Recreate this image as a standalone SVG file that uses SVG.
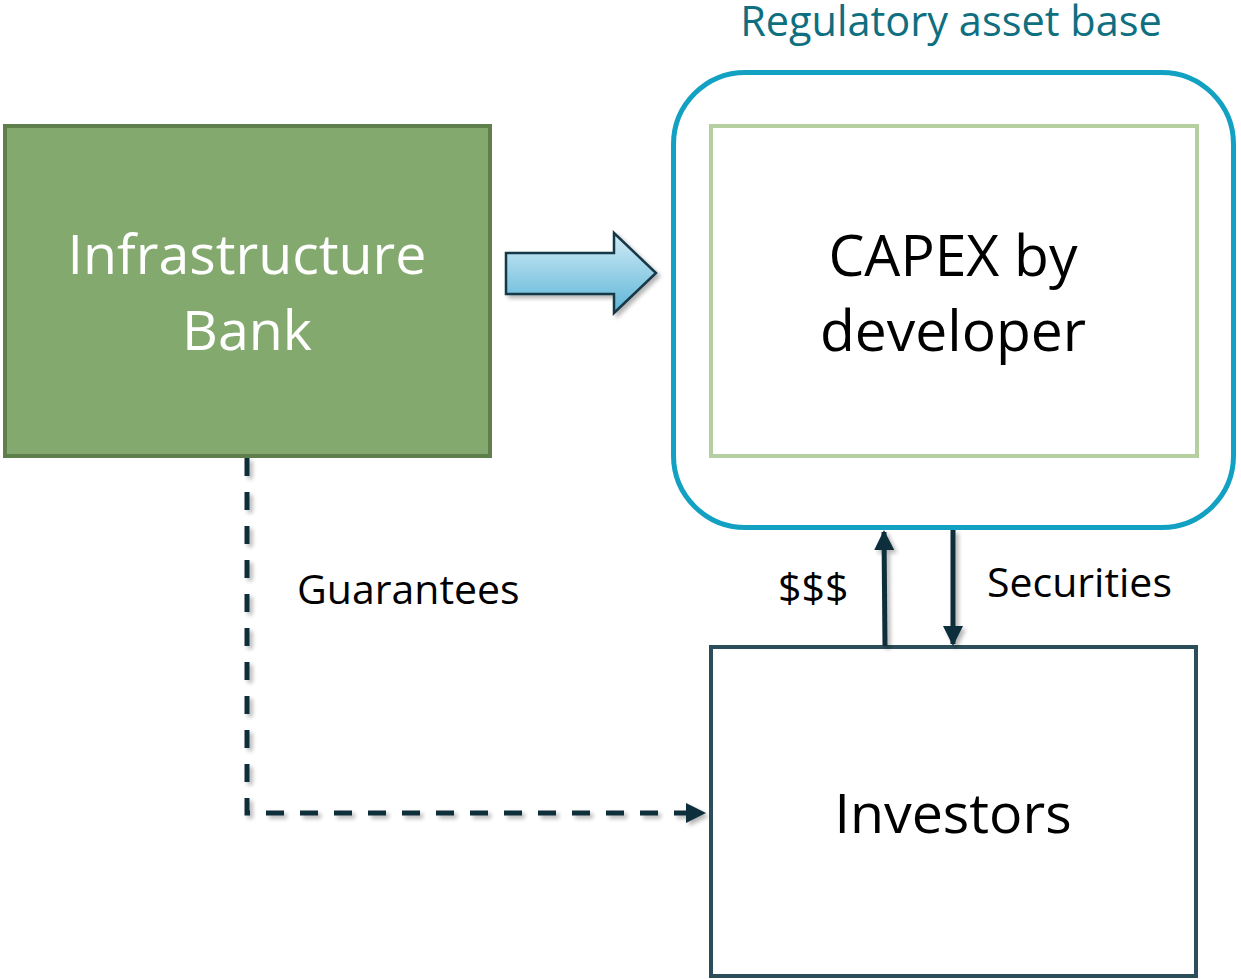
<svg xmlns="http://www.w3.org/2000/svg" width="1241" height="979" viewBox="0 0 1241 979">
<defs>
<style>
text{font-family:"Open Sans","Liberation Sans",sans-serif;}
.big{font-size:55.5px;text-anchor:middle;}
.lbl{font-size:41px;fill:#000;}
.conn{stroke:#0F2E3A;stroke-width:5;fill:none;}
</style>
<linearGradient id="blueG" x1="0" y1="0" x2="0" y2="1">
<stop offset="0" stop-color="#D2ECF6"/>
<stop offset="1" stop-color="#5DB5D8"/>
</linearGradient>
<filter id="sh" filterUnits="userSpaceOnUse" x="0" y="0" width="1241" height="979">
<feGaussianBlur in="SourceAlpha" stdDeviation="2"/>
<feOffset dx="3" dy="3"/>
<feComponentTransfer><feFuncA type="linear" slope="0.3"/></feComponentTransfer>
<feMerge><feMergeNode/><feMergeNode in="SourceGraphic"/></feMerge>
</filter>
<marker id="ah" viewBox="0 0 10 10" refX="9" refY="5" markerWidth="4" markerHeight="4" orient="auto" markerUnits="strokeWidth">
<path d="M0,0 L10,5 L0,10 z" fill="#0F2E3A"/>
</marker>
</defs>
<rect width="1241" height="979" fill="#fff"/>

<g id="rab">
<rect x="673.5" y="72.5" width="560" height="455" rx="72" ry="72" fill="none" stroke="#12A0C3" stroke-width="5"/>
<text x="951" y="36" text-anchor="middle" fill="#0E6F80" style="font-size:41.5px">Regulatory asset base</text>
</g>

<g id="infra-bank">
<rect x="5" y="126" width="485" height="330" fill="#83A96E" stroke="#5E7F4C" stroke-width="4"/>
<text class="big" x="247" y="274" fill="#fff">Infrastructure</text>
<text class="big" x="247" y="350" fill="#fff">Bank</text>
</g>

<g id="capex">
<rect x="711" y="126" width="486" height="330" fill="#fff" stroke="#B5CFA0" stroke-width="4"/>
<text class="big" x="953" y="276" fill="#000" style="font-size:57px">CAPEX by</text>
<text class="big" x="953" y="351" fill="#000" style="font-size:57px">developer</text>
</g>

<g id="investors">
<rect x="711" y="647" width="485" height="329" fill="#fff" stroke="#2C4E5A" stroke-width="4"/>
<text class="big" x="953" y="833" fill="#000">Investors</text>
</g>

<g id="connectors">
<path d="M506,253 H614 V233 L656,273 L614,313 V294 H506 Z" fill="url(#blueG)" stroke="#173846" stroke-width="2.5" stroke-linejoin="miter" filter="url(#sh)"/>
<path class="conn" d="M247,458 V813 H704" stroke-dasharray="18,16" marker-end="url(#ah)" filter="url(#sh)"/>
<line class="conn" x1="885" y1="646" x2="884" y2="532" marker-end="url(#ah)" filter="url(#sh)"/>
<line class="conn" x1="953" y1="530" x2="953" y2="644" marker-end="url(#ah)" filter="url(#sh)"/>
<text class="lbl" x="297" y="604">Guarantees</text>
<text class="lbl" x="778" y="602">$$$</text>
<text class="lbl" x="987" y="597">Securities</text>
</g>
</svg>
